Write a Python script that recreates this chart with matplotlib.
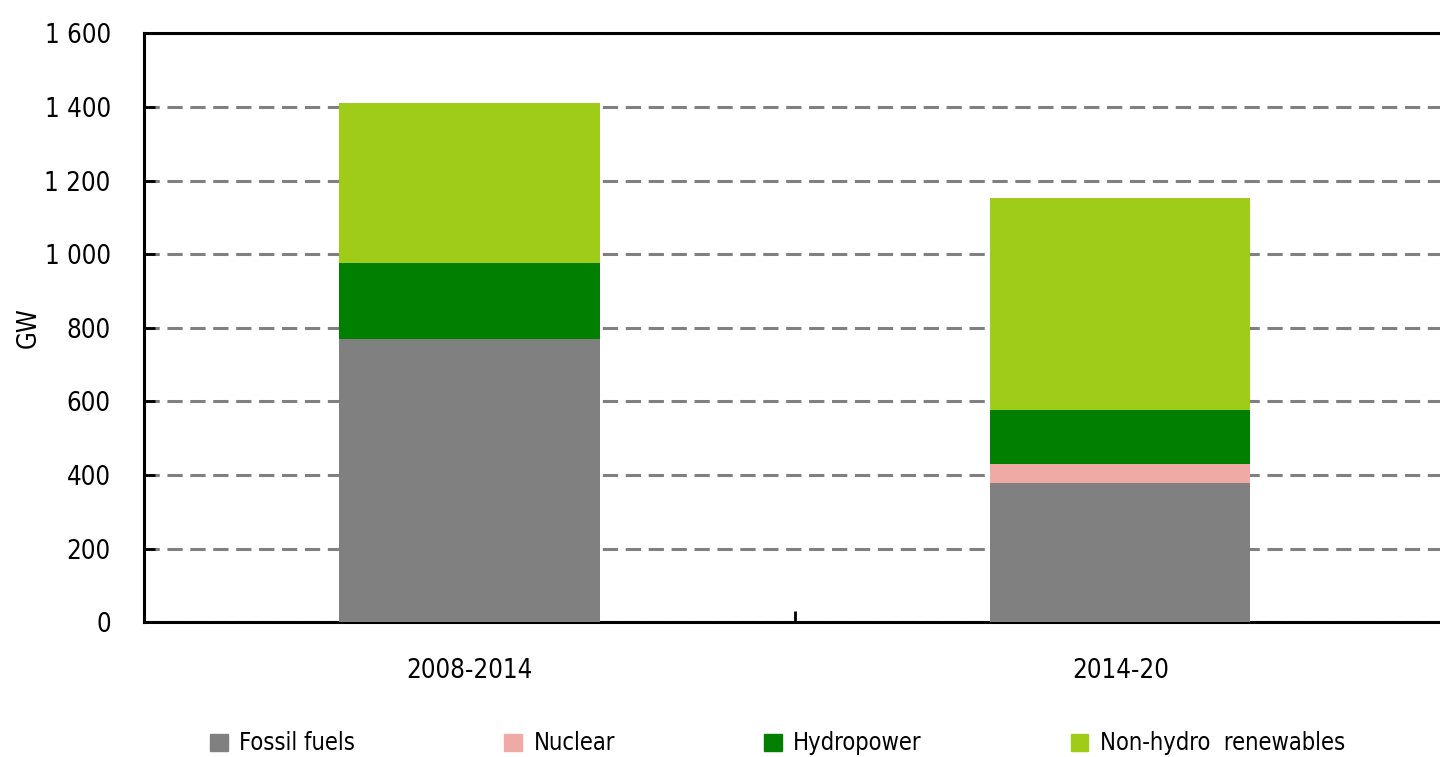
import matplotlib.pyplot as plt
from matplotlib.patches import Patch
from matplotlib.ticker import FuncFormatter

periods = ['2008-2014', '2014-20']
fossil = [770, 378]
nuclear = [0, 51]
hydro = [205, 147]
non_hydro = [435, 576]

series = [('Fossil fuels', fossil, '#808080'),
          ('Nuclear', nuclear, '#f0aaa6'),
          ('Hydropower', hydro, '#007f00'),
          ('Non-hydro  renewables', non_hydro, '#9ecc18')]

plt.rcParams['font.family'] = ['DejaVu Sans']
plt.rcParams['font.stretch'] = 'condensed'
plt.rcParams['font.size'] = 18.5

fig = plt.figure(figsize=(14.4, 7.57), dpi=100)
# right edge of the plot area sits on the picture edge, so no right spine shows
ax = fig.add_axes([0.1, 0.178, 0.904, 0.778])

x = list(range(len(periods)))
bottom = [0] * len(periods)
for name, vals, color in series:
    ax.bar(x, vals, width=0.4, bottom=bottom, color=color, label=name, zorder=3)
    bottom = [b + v for b, v in zip(bottom, vals)]

ax.set_xlim(-0.5, 1.5)
ax.set_ylim(0, 1600)
ax.set_yticks(range(0, 1601, 200))
ax.yaxis.set_major_formatter(FuncFormatter(lambda v, p: f'{int(v):,}'.replace(',', ' ')))
ax.yaxis.grid(True, color='#808080', linestyle=(0, (5, 2.5)), linewidth=2.2, zorder=0)

ax.set_xticks(x)
ax.set_xticklabels(periods)
ax.set_xticks([0.5], minor=True)
ax.tick_params(axis='x', which='major', length=0, pad=26)
ax.tick_params(axis='x', which='minor', direction='in', length=8, width=2)
ax.tick_params(axis='y', direction='in', length=8, width=2, pad=24)

for s in ['left', 'bottom', 'top']:
    ax.spines[s].set_linewidth(2.2)
ax.spines['right'].set_visible(False)

ax.set_ylabel('GW', labelpad=2)

handles = [Patch(color=c, label=n) for n, v, c in series]
fig.legend(handles=handles, loc='lower left', bbox_to_anchor=(0.131, -0.026), ncol=4,
           frameon=False, fontsize=17, handlelength=0.75, handleheight=0.75,
           handletextpad=0.5, columnspacing=6.3)

fig.savefig('out.png', dpi=100)
